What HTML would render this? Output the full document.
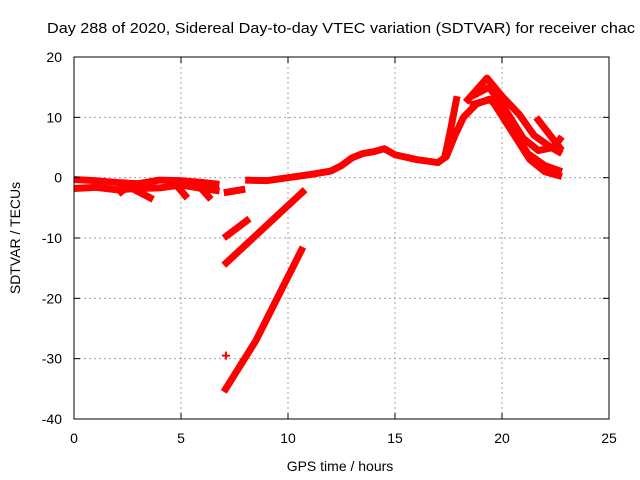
<!DOCTYPE html>
<html><head><meta charset="utf-8"><style>
body{margin:0;background:#fff}
svg{display:block;font-family:"Liberation Sans",sans-serif}
</style></head><body>
<svg id="chart" width="640" height="480" viewBox="0 0 640 480" xmlns="http://www.w3.org/2000/svg">
<rect width="640" height="480" fill="#fff"/>
<text x="47" y="33" font-size="14.5" textLength="588" lengthAdjust="spacingAndGlyphs">Day 288 of 2020, Sidereal Day-to-day VTEC variation (SDTVAR) for receiver chac</text>
<g id="grid"></g>
<g id="series"></g>
<rect x="74" y="57" width="535" height="362" fill="none" stroke="#000" stroke-width="1"/>
<g id="ticks"></g>
<text x="340" y="471" font-size="14" text-anchor="middle">GPS time / hours</text>
<text transform="translate(20,238) rotate(-90)" font-size="14" text-anchor="middle">SDTVAR / TECUs</text>
</svg>
<script>
const xTicks=[0,5,10,15,20,25];
const yTicks=[20,10,0,-10,-20,-30,-40];
const trackA=[[0,-0.3],[1,-0.5],[2,-0.8],[3,-1.0],[4,-0.4],[5,-0.5],[6,-0.8],[6.8,-1.1]];
const trackB=[[0,-1.8],[1,-1.6],[2,-2.0],[3,-1.8],[4,-1.7],[5,-1.2],[6,-1.8],[6.8,-2.2]];
const drop1=[[2.4,-1.2],[3.7,-3.6]];
const drop2=[[4.8,-1.3],[5.3,-3.4]];
const drop3=[[5.7,-0.8],[6.4,-3.6]];
const drop4=[[2.0,-1.5],[2.3,-2.8]];
const seg7=[[7.0,-2.5],[8.0,-1.9]];
const trackC=[[8.0,-0.4],[9.0,-0.5],[10.0,0],[11.0,0.5],[12.0,1.1],[12.5,2],[13.0,3.3],[13.5,4],[14.0,4.3],[14.5,4.8],[15.0,3.8],[16.0,3.0],[17.0,2.5],[17.4,3.5],[17.8,7],[18.2,10],[18.8,12.2],[19.4,13],[19.9,11.5],[20.5,8],[21.2,4],[22.0,2],[22.8,1.0]];
const trackD=[[17.3,3],[17.6,8],[17.9,13.5]];
const trackE=[[18.3,12.5],[19.3,16.5],[20.0,13.5],[20.8,10.5],[21.5,7],[22.3,5],[22.8,4]];
const trackF=[[18.6,13.5],[19.4,15.0],[20.2,11],[21.0,6.5],[21.7,4.5],[22.4,5],[22.8,6.8]];
const trackG=[[18.5,12],[19.5,13],[20.4,8],[21.3,3],[22.0,1],[22.8,0.2]];
const trackH=[[21.6,10],[22.8,4.5]];
const diag1=[[7.0,-10],[8.2,-6.8]];
const diag2=[[7.0,-14.5],[10.8,-2.0]];
const diag3=[[7.0,-35.5],[8.5,-27],[10.7,-11.5]];
const lone=[[7.1,-29.5]];
const allSeries=[trackA,trackB,drop1,drop2,drop3,drop4,seg7,trackC,trackD,trackE,trackF,trackG,trackH,diag1,diag2,diag3];

const X=h=>74+h*(535/25);
const Y=v=>57+(20-v)*(362/60);
const NS="http://www.w3.org/2000/svg";
const mk=(t,a,p)=>{const e=document.createElementNS(NS,t);for(const k in a)e.setAttribute(k,a[k]);p.appendChild(e);return e;};
const grid=document.getElementById('grid'),ticks=document.getElementById('ticks'),ser=document.getElementById('series');
xTicks.forEach(t=>{
  if(t>0&&t<25){const g=mk('line',{x1:X(t),x2:X(t),y1:57,y2:419,stroke:'#a0a0a0','stroke-dasharray':'2,3'},grid);
  
  }
  mk('line',{x1:X(t),x2:X(t),y1:419,y2:413,stroke:'#000'},ticks);
  mk('line',{x1:X(t),x2:X(t),y1:57,y2:63,stroke:'#000'},ticks);
  const l=mk('text',{x:X(t),y:443,'font-size':14,'text-anchor':'middle'},ticks);l.textContent=t;
  
  
});
yTicks.forEach(t=>{
  if(t>-40&&t<20){const g=mk('line',{x1:74,x2:609,y1:Y(t),y2:Y(t),stroke:'#a0a0a0','stroke-dasharray':'2,3'},grid);
  
  }
  mk('line',{x1:74,x2:80,y1:Y(t),y2:Y(t),stroke:'#000'},ticks);
  mk('line',{x1:609,x2:603,y1:Y(t),y2:Y(t),stroke:'#000'},ticks);
  const l=mk('text',{x:62,y:Y(t)+5,'font-size':14,'text-anchor':'end'},ticks);l.textContent=t;
  
  
});
allSeries.forEach(s=>{
  const p=mk('polyline',{points:s.map(d=>X(d[0])+','+Y(d[1])).join(' '),fill:'none',stroke:'#f00','stroke-width':7,'stroke-linejoin':'round','stroke-linecap':'butt'},ser);
  
  
});
lone.forEach(d=>{
  const g=mk('path',{d:`M${X(d[0])-4},${Y(d[1])}h8M${X(d[0])},${Y(d[1])-4}v8`,stroke:'#f00','stroke-width':2},ser);
  
  
});
</script>
</body></html>
